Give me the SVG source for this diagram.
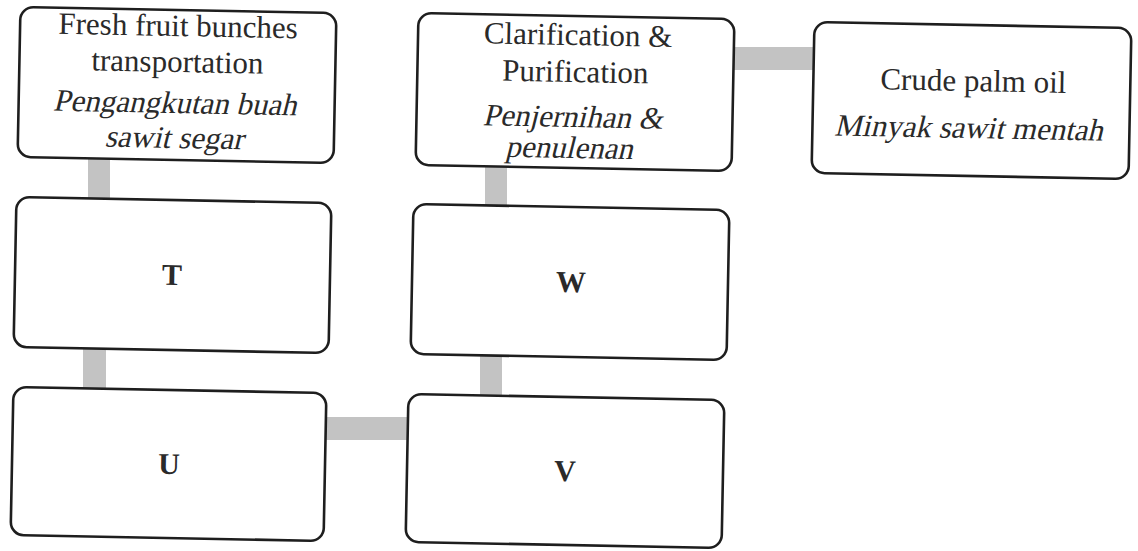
<svg xmlns="http://www.w3.org/2000/svg" width="1138" height="551" viewBox="0 0 1138 551">
<style>
.box{fill:#fff;stroke:#1e1e1e;stroke-width:2.6}
.conn{fill:#c3c3c3}
.t{font-family:"Liberation Serif","Times New Roman",serif;font-size:31px;fill:#2a2a2a;text-anchor:middle}
.b{font-weight:bold;font-size:30px}
</style>
<rect width="1138" height="551" fill="#fff"/>
<g id="connectors">
<rect class="conn" x="88" y="158" width="22" height="42"/>
<rect class="conn" x="83" y="348" width="23" height="42"/>
<rect class="conn" x="325" y="417" width="84" height="23"/>
<rect class="conn" x="480" y="355" width="22" height="42"/>
<rect class="conn" x="485" y="166" width="22" height="42"/>
<rect class="conn" x="731" y="47" width="84" height="23"/>
</g>
<g id="n-fresh" transform="rotate(1.1 177 85)">
<rect class="box" x="19" y="10" width="316" height="150" rx="13"/>
<text class="t" x="177" y="36">Fresh fruit bunches</text>
<text class="t" x="177" y="72">transportation</text>
<text class="t" transform="translate(175 113) skewX(-13)">Pengangkutan buah</text>
<text class="t" transform="translate(175 148) skewX(-13)">sawit segar</text>
</g>
<g id="n-T" transform="rotate(1.1 172 275)">
<rect class="box" x="15" y="200" width="315" height="150" rx="13"/>
<text class="t b" x="172" y="285">T</text>
</g>
<g id="n-U" transform="rotate(1.1 169 464)">
<rect class="box" x="12" y="390" width="313" height="148" rx="13"/>
<text class="t b" x="169" y="474">U</text>
</g>
<g id="n-V" transform="rotate(1.1 565 471)">
<rect class="box" x="407" y="397" width="316" height="148" rx="13"/>
<text class="t b" x="565" y="481">V</text>
</g>
<g id="n-W" transform="rotate(1.1 570 282)">
<rect class="box" x="412" y="207" width="316" height="150" rx="13"/>
<text class="t b" x="571" y="292">W</text>
</g>
<g id="n-clar" transform="rotate(1.1 575 92)">
<rect class="box" x="417" y="16" width="316" height="152" rx="13"/>
<text class="t" x="577" y="45">Clarification &amp;</text>
<text class="t" x="575" y="82">Purification</text>
<text class="t" transform="translate(573 127) skewX(-13)">Penjernihan &amp;</text>
<text class="t" transform="translate(570 158) skewX(-13)">penulenan</text>
</g>
<g id="n-crude" transform="rotate(1.1 971 100)">
<rect class="box" x="813" y="25" width="317" height="151" rx="13"/>
<text class="t" x="973" y="91">Crude palm oil</text>
<text class="t" transform="translate(969 138) skewX(-13)">Minyak sawit mentah</text>
</g>
</svg>
